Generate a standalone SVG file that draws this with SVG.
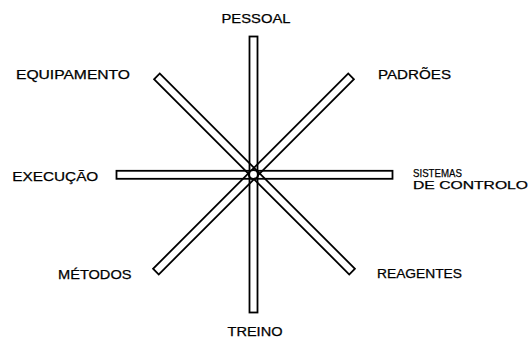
<svg xmlns="http://www.w3.org/2000/svg" width="531" height="338" viewBox="0 0 531 338">
<style>
.bar{fill:none;stroke:#000;stroke-width:1.8}
.lbl{font-family:"Liberation Sans",Arial,sans-serif;font-size:12.5px;fill:#000;stroke:#000;stroke-width:0.25}
.sm{font-size:11.5px}
</style>
<defs>
<rect id="b" x="-138" y="-4" width="276" height="8"/>
</defs>
<rect width="531" height="338" fill="#fff"/>
<g id="connectors">
<use href="#b" class="bar" transform="translate(253.5 174.5) rotate(90)"/>
<use href="#b" class="bar" transform="translate(254.5 174.8)"/>
<use href="#b" class="bar" transform="translate(254.5 174) rotate(45)"/>
<use href="#b" class="bar" transform="translate(253.5 174) rotate(-45)"/>
<circle cx="253.5" cy="174.5" r="4.5" fill="#fff" stroke="#000" stroke-width="2.2"/>
</g>
<g id="pessoal"><text class="lbl" x="221.5" y="22.5" textLength="69" lengthAdjust="spacingAndGlyphs">PESSOAL</text></g>
<g id="padroes"><text class="lbl" x="378" y="79" textLength="73" lengthAdjust="spacingAndGlyphs">PADRÕES</text></g>
<g id="sistemas"><text class="lbl sm" x="413" y="176.5" textLength="49" lengthAdjust="spacingAndGlyphs">SISTEMAS</text><text class="lbl sm" x="413" y="188.5" textLength="115" lengthAdjust="spacingAndGlyphs">DE  CONTROLO</text></g>
<g id="reagentes"><text class="lbl" x="377" y="278" textLength="85" lengthAdjust="spacingAndGlyphs">REAGENTES</text></g>
<g id="treino"><text class="lbl" x="227.5" y="336" textLength="55" lengthAdjust="spacingAndGlyphs">TREINO</text></g>
<g id="metodos"><text class="lbl" x="58" y="279.3" textLength="73.5" lengthAdjust="spacingAndGlyphs">MÉTODOS</text></g>
<g id="execucao"><text class="lbl" x="12.3" y="180.6" textLength="86" lengthAdjust="spacingAndGlyphs">EXECUÇÃO</text></g>
<g id="equipamento"><text class="lbl" x="16" y="79.3" textLength="114" lengthAdjust="spacingAndGlyphs">EQUIPAMENTO</text></g>
</svg>
